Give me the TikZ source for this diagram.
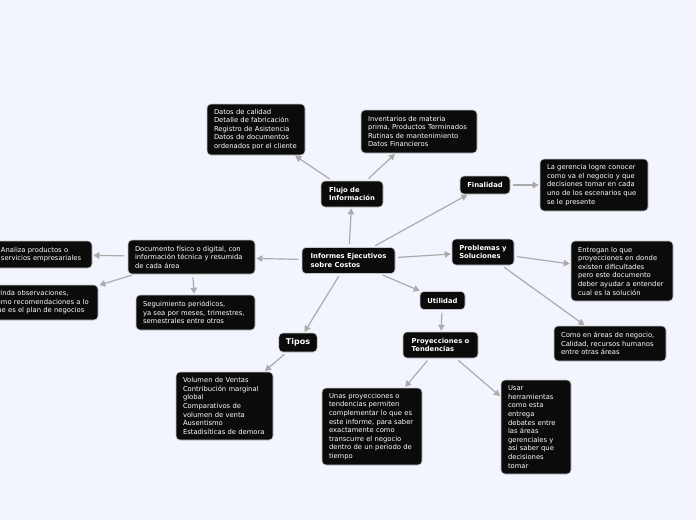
\documentclass[tikz,border=0pt]{standalone}
\usepackage{fontspec}
\setmainfont{DejaVu Sans}
\usetikzlibrary{arrows.meta, positioning}
\definecolor{bgblue}{HTML}{F3F5FE}
\definecolor{boxblack}{HTML}{0B0B0B}
\definecolor{linegray}{HTML}{ABABAB}

\begin{document}
\begin{tikzpicture}[
    x=1pt, y=-1pt,
    topic/.style={
        rectangle, rounded corners=4pt,
        draw=gray!45, line width=0.6pt,
        fill=boxblack, text=white,
        inner xsep=7pt, inner ysep=4pt,
        align=left,
        font=\fontsize{6.8}{8.6}\selectfont\bfseries
    },
    leaf/.style={
        topic,
        font=\fontsize{6.8}{8.6}\selectfont
    },
    arrow/.style={
        -{Triangle[length=6pt, width=6.5pt]}, draw=linegray, line width=1.2pt,
        shorten <=3pt, shorten >=1pt
    }
]

% Canvas
\path[use as bounding box, fill=bgblue] (0,0) rectangle (696,520);
\clip (0,0) rectangle (696,520);

% Centre
\node[topic, minimum width=93pt, minimum height=26pt] (informe) at (348.5,260.5)
    {Informes Ejecutivos\\sobre Costos};

% Flujo de informacion
\node[topic, minimum width=62pt, minimum height=26pt] (flujo) at (352,194)
    {Flujo de\\Información};
\node[leaf, text width=84pt, minimum height=51pt] (datos) at (256,129.5)
    {Datos de calidad\\Detalle de fabricación\\Registro de Asistencia\\Datos de documentos\\ordenados por el cliente};
\node[leaf, text width=102pt, minimum height=43pt] (inventario) at (419,131.5)
    {Inventarios de materia\\prima, Productos Terminados\\Rutinas de mantenimiento\\Datos Financieros};

% Finalidad
\node[topic, minimum width=50pt, minimum height=18pt] (finalidad) at (485,185)
    {Finalidad};
\node[leaf, text width=94pt, minimum height=52pt] (gerencia) at (594,185)
    {La gerencia logre conocer\\como va el negocio y que\\decisiones tomar en cada\\uno de los escenarios que\\se le presente};

% Problemas y soluciones
\node[topic, minimum width=62pt, minimum height=26pt] (problemas) at (483,252)
    {Problemas y\\Soluciones};
\node[leaf, text width=88pt, minimum height=60pt] (entregan) at (622,271)
    {Entregan lo que\\proyecciones en donde\\existen dificultades\\pero este documento\\deber ayudar a entender\\cual es la solución};
\node[leaf, text width=98pt, minimum height=35pt] (areas) at (610,343.5)
    {Como en áreas de negocio,\\Calidad, recursos humanos\\entre otras áreas};

% Utilidad
\node[topic, minimum width=45pt, minimum height=18pt] (utilidad) at (442.5,300.5)
    {Utilidad};
\node[topic, minimum width=75pt, minimum height=26pt] (proyeccion) at (440.5,345)
    {Proyecciones o\\Tendencias};
\node[leaf, text width=86pt, minimum height=77pt] (unas) at (372,426.5)
    {Unas proyecciones o\\tendencias permiten\\complementar lo que es\\este informe, para saber\\exactamente como\\transcurre el negocio\\dentro de un periodo de\\tiempo};
\node[leaf, text width=56pt, minimum height=94pt] (usar) at (536,427)
    {Usar\\herramientas\\como esta\\entrega\\debates entre\\las áreas\\gerenciales y\\así saber que\\decisiones\\tomar};

% Tipos
\node[topic, minimum width=38pt, minimum height=19pt,
      font=\fontsize{8}{9}\selectfont\bfseries] (tipos) at (298,342.5)
    {Tipos};
\node[leaf, text width=83pt, minimum height=68pt] (volumen) at (224.5,406)
    {Volumen de Ventas\\Contribución marginal\\global\\Comparativos de\\volumen de venta\\Ausentismo\\Estadisíticas de demora};

% Documento
\node[leaf, text width=113pt, minimum height=34pt] (documento) at (191.5,257)
    {Documento físico o digital, con\\información técnica y resumida\\de cada área};
\node[leaf, text width=84pt, minimum height=27pt] (analiza) at (43,254.5)
    {Analiza productos o\\servicios empresariales};
\node[leaf, text width=98pt, minimum height=35pt] (brinda) at (42,302.5)
    {Brinda observaciones,\\como recomendaciones a lo\\que es el plan de negocios};
\node[leaf, text width=105pt, minimum height=35pt] (seguimiento) at (195.5,312.5)
    {Seguimiento periódicos,\\ya sea por meses, trimestres,\\semestrales entre otros};

% Arrows
\draw[arrow] (informe) -- (flujo);
\draw[arrow] (flujo) -- (datos);
\draw[arrow] (flujo) -- (inventario);
\draw[arrow] (informe) -- (finalidad);
\draw[arrow] (finalidad) -- (gerencia);
\draw[arrow] (informe) -- (problemas);
\draw[arrow] (problemas) -- (entregan);
\draw[arrow] (problemas) -- (areas);
\draw[arrow] (informe) -- (utilidad);
\draw[arrow] (utilidad) -- (proyeccion);
\draw[arrow] (proyeccion) -- (unas);
\draw[arrow] (proyeccion) -- (usar);
\draw[arrow] (informe) -- (tipos);
\draw[arrow] (tipos) -- (volumen);
\draw[arrow] (informe) -- (documento);
\draw[arrow] (documento) -- (analiza);
\draw[arrow] (documento) -- (brinda);
\draw[arrow] (documento) -- (seguimiento);

\end{tikzpicture}
\end{document}
